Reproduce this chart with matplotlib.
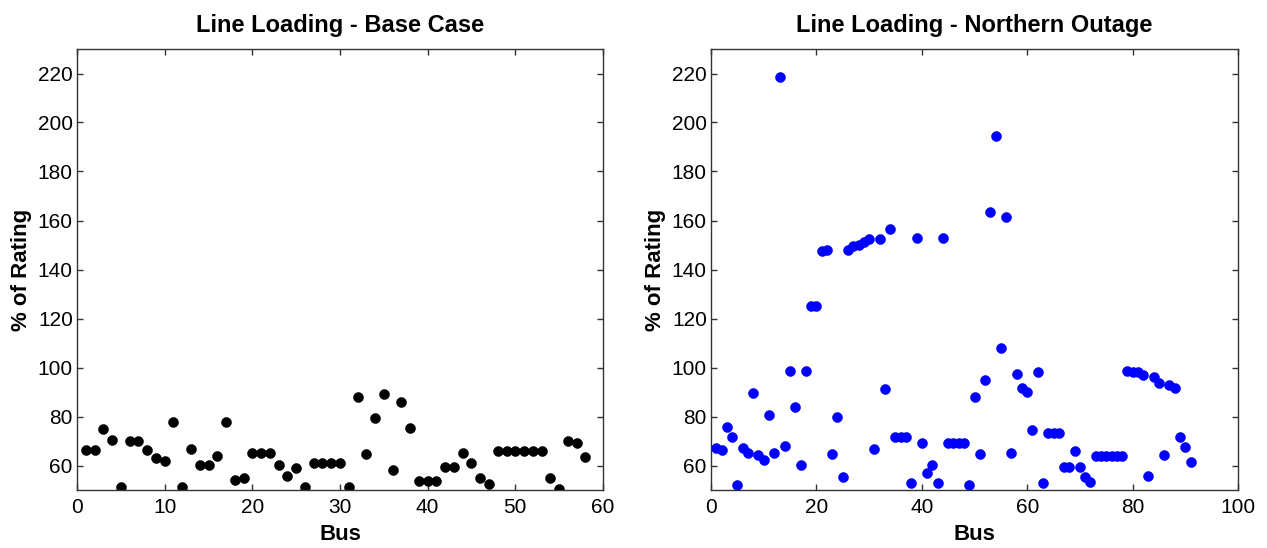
import matplotlib.pyplot as plt
import numpy as np

# base case loading, buses 1..58
base_bus = np.arange(1, 59)
base_load = [66.3, 66.3, 74.7, 70.5, 51.4, 70.0, 70.0, 66.3, 63.0, 62.0,
             77.8, 51.4, 66.8, 60.4, 60.4, 63.7, 77.8, 54.2, 55.1, 65.3,
             65.3, 65.3, 60.4, 55.7, 59.0, 51.4, 61.1, 61.1, 61.1, 61.1,
             51.4, 87.9, 64.8, 79.5, 89.0, 58.0, 85.9, 75.3, 53.6, 53.6,
             53.6, 59.3, 59.3, 65.3, 61.0, 54.7, 52.5, 66.1, 66.1, 66.1,
             66.1, 66.1, 66.1, 54.7, 50.5, 70.0, 69.0, 63.6]

# northern outage loading, buses 1..91
outage_bus = np.arange(1, 92)
outage_load = [67.3, 66.4, 75.9, 71.7, 52.1, 67.1, 65.3, 89.6, 64.4, 62.2,
               80.5, 65.3, 218.4, 68.0, 98.6, 83.8, 60.1, 98.6, 124.9, 124.9,
               147.6, 148.0, 64.8, 79.6, 55.4, 148.1, 149.4, 150.1, 151.3, 152.4,
               66.9, 152.4, 91.1, 156.6, 71.7, 71.7, 71.7, 52.7, 152.9, 69.0,
               56.9, 60.1, 52.7, 152.9, 69.0, 69.0, 69.0, 69.0, 52.1, 88.0,
               64.8, 94.8, 163.5, 194.6, 108.1, 161.3, 65.3, 97.5, 91.8, 90.2,
               74.4, 98.0, 52.7, 73.2, 73.2, 73.2, 59.5, 59.5, 65.8, 59.5,
               55.4, 53.2, 63.7, 63.7, 63.7, 63.7, 63.7, 63.7, 98.6, 98.2,
               98.2, 97.0, 55.8, 96.0, 93.8, 64.2, 92.7, 91.7, 71.7, 67.5,
               61.6]

plt.rcParams['font.family'] = ['Liberation Sans', 'DejaVu Sans']

fig = plt.figure(figsize=(12.67, 5.48), dpi=100)
ax1 = fig.add_axes([77 / 1267, 1 - 490 / 548, 526 / 1267, 441 / 548])
ax2 = fig.add_axes([711 / 1267, 1 - 490 / 548, 527 / 1267, 441 / 548])

panels = [
    (ax1, base_bus, base_load, 'black', 'Line Loading - Base Case', 60),
    (ax2, outage_bus, outage_load, 'blue', 'Line Loading - Northern Outage', 100),
]

for ax, x, y, col, title, xmax in panels:
    ax.plot(x, y, linestyle='none', marker=(8, 2, 0), markersize=7,
            markeredgewidth=2.6, color=col)
    ax.set_xlim(0, xmax)
    ax.set_ylim(50, 230)
    ax.set_yticks(np.arange(60, 221, 20))
    ax.tick_params(direction='in', top=True, right=True, length=4,
                   width=1, labelsize=15, colors='#333333',
                   labelcolor='black')
    ax.tick_params(axis='x', pad=6)
    ax.tick_params(axis='y', pad=3)
    for s in ax.spines.values():
        s.set_color('#333333')
        s.set_linewidth(1.0)
    ax.set_title(title, fontsize=17, fontweight='bold', pad=12)
    ax.set_xlabel('Bus', fontsize=16, fontweight='bold', labelpad=5)
    ax.set_ylabel('% of Rating', fontsize=16, fontweight='bold', labelpad=4)

fig.savefig('out.png', dpi=100)
